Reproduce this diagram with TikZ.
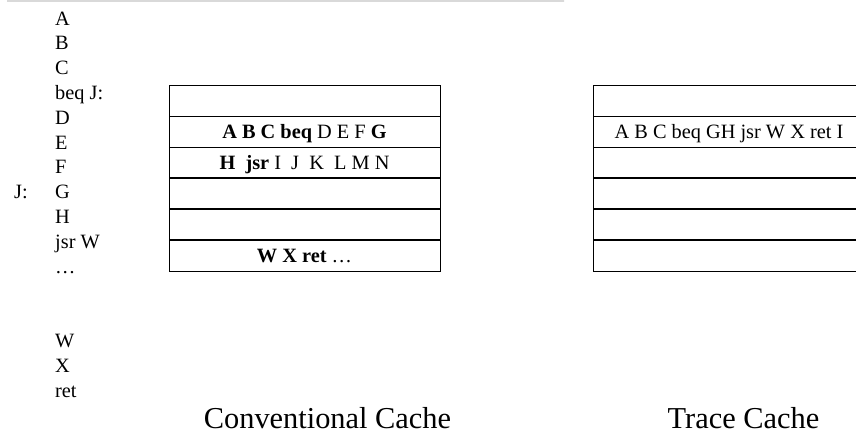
\documentclass[tikz,border=0pt]{standalone}
\usepackage{fontspec}
\setmainfont{Liberation Serif}
\begin{document}
\begin{tikzpicture}[x=1bp,y=-1bp,
  lbl/.style={anchor=base west, inner sep=0pt, font=\fontsize{20.4}{24}\selectfont},
  cell/.style={draw=black, line width=0.8bp, minimum width=271bp, minimum height=31bp,
    inner sep=0pt, outer sep=0pt, text height=14bp, text depth=1bp,
    font=\fontsize{20.4}{24}\selectfont},
  heading/.style={anchor=base, inner sep=0pt, font=\fontsize{30.5}{36}\selectfont},
  divider/.style={line width=1.5bp}]
\clip (0,0) rectangle (856,432);

% thin rule along the top
\shade[left color=gray!30, middle color=gray!75, right color=gray!30] (7,0) rectangle (564,1.6);

% program listing
\foreach \t [count=\i from 0] in {A,B,C,beq J:,D,E,F,G,H,jsr W,…,{},{},W,X,ret}
  \node[lbl] (code\i) at (55,{25+\i*24.8}) {\t};
\node[lbl] (jlabel) at (14,{25+7*24.8}) {J:};

% conventional cache lines
\node[cell] (conv1) at (304.5,100.5) {};
\node[cell] (conv2) at (304.5,131.5) {\textbf{A B C beq} D E F \textbf{G}};
\node[cell] (conv3) at (304.5,162.5) {\textbf{H\ \ jsr} I\ \ J\ \ K\ \ L M N};
\node[cell] (conv4) at (304.5,193.5) {};
\node[cell] (conv5) at (304.5,224.5) {};
\node[cell] (conv6) at (304.5,255.5) {\textbf{W X ret} …};
\foreach \r in {3,4,5}
  \draw[divider] (conv\r.south west) -- (conv\r.south east);

% trace cache lines
\node[cell] (trace1) at (729,100.5) {};
\node[cell] (trace2) at (729,131.5) {A B C beq GH jsr W X ret I};
\node[cell] (trace3) at (729,162.5) {};
\node[cell] (trace4) at (729,193.5) {};
\node[cell] (trace5) at (729,224.5) {};
\node[cell] (trace6) at (729,255.5) {};
\foreach \r in {3,4,5}
  \draw[divider] (trace\r.south west) -- (trace\r.south east);

% captions
\node[heading] (convtitle) at (327.5,428) {Conventional Cache};
\node[heading] (tracetitle) at (743.5,428) {Trace Cache};
\end{tikzpicture}
\end{document}
